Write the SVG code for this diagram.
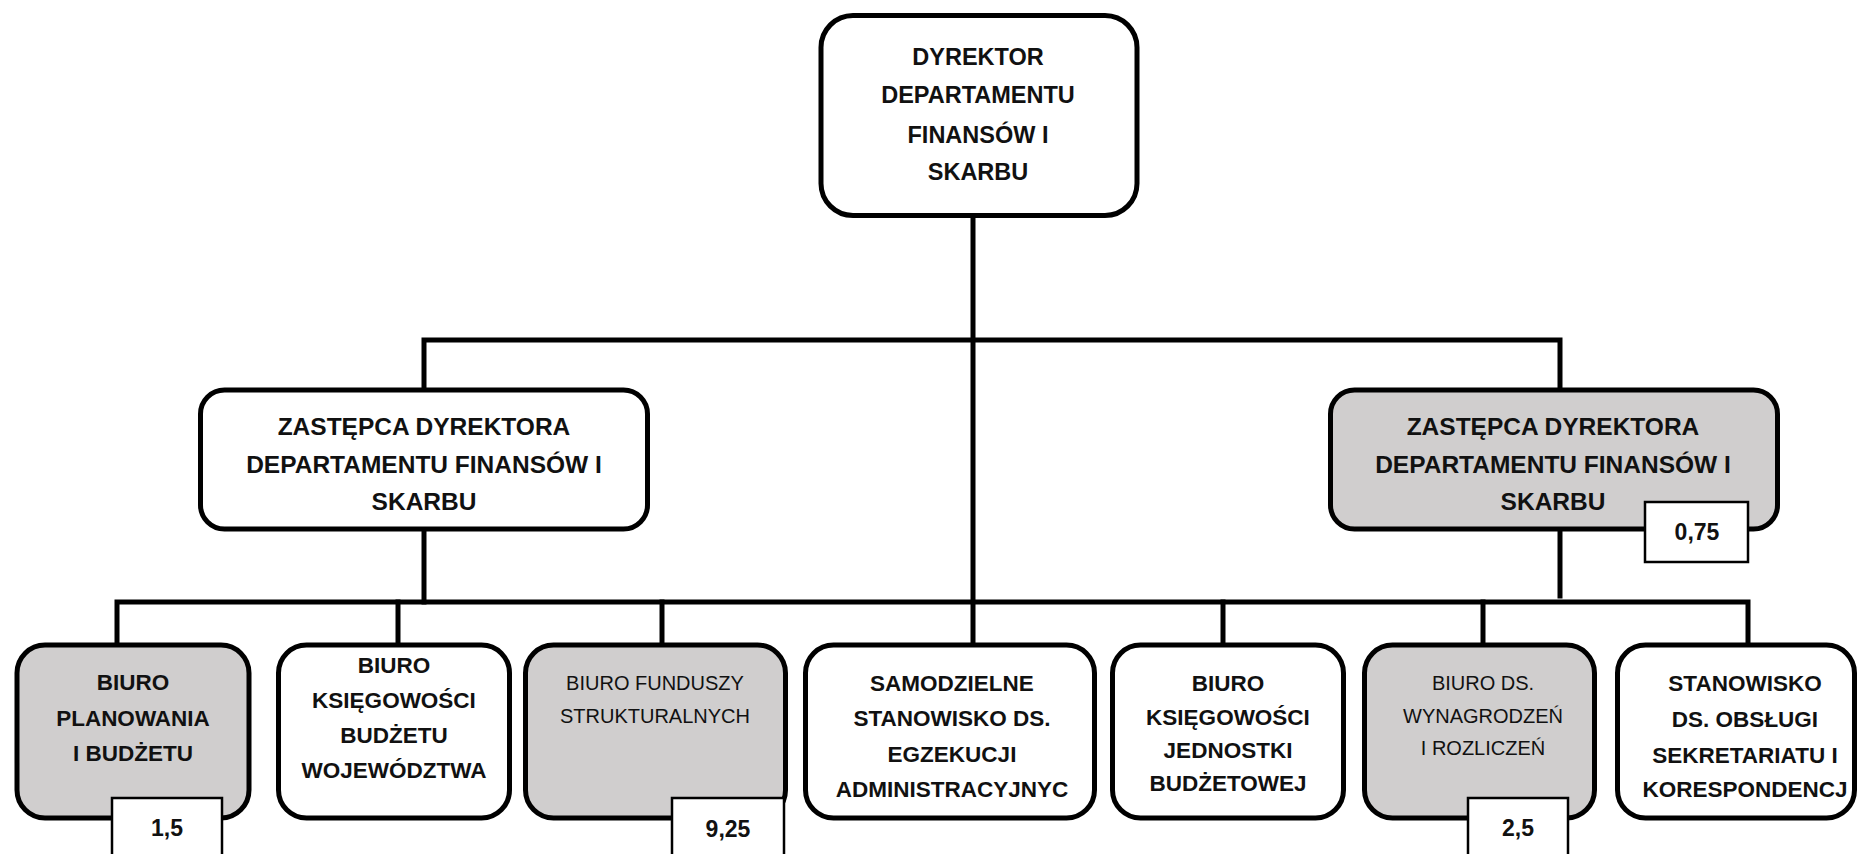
<svg xmlns="http://www.w3.org/2000/svg" width="1860" height="854" viewBox="0 0 1860 854">
<style>
.box{fill:#fff;stroke:#000;stroke-width:5}
.gray{fill:#d0cece}
.badge{fill:#fff;stroke:#000;stroke-width:2.5}
.ln{stroke:#000;stroke-width:5;fill:none;stroke-linecap:square}
text{font-family:"Liberation Sans",Arial,sans-serif;fill:#111;text-anchor:middle}
.b{font-weight:bold}
.t1{font-size:23.5px}
.t2{font-size:24.5px}
.t3{font-size:22.5px}
.tr{font-size:20px;font-weight:normal}
.tn{font-size:23px;font-weight:bold}
</style>
<rect width="1860" height="854" fill="#fff"/>
<g id="connectors">
<line class="ln" x1="973" y1="218" x2="973" y2="643"/>
<polyline class="ln" points="424,387 424,340 1560,340 1560,387"/>
<line class="ln" x1="424" y1="531" x2="424" y2="602"/>
<line class="ln" x1="1560" y1="531" x2="1560" y2="596"/>
<polyline class="ln" points="117,643 117,602 1748,602 1748,643"/>
<line class="ln" x1="398" y1="602" x2="398" y2="643"/>
<line class="ln" x1="662" y1="602" x2="662" y2="643"/>
<line class="ln" x1="1223" y1="602" x2="1223" y2="643"/>
<line class="ln" x1="1483" y1="602" x2="1483" y2="643"/>
</g>
<g id="dyrektor">
<rect class="box" x="821" y="15.5" width="316" height="200" rx="32"/>
<text class="b t1"><tspan x="978" y="65">DYREKTOR</tspan><tspan x="978" y="103">DEPARTAMENTU</tspan><tspan x="978" y="143">FINANSÓW I</tspan><tspan x="978" y="180">SKARBU</tspan></text>
</g>
<g id="zastepca-lewy">
<rect class="box" x="200.5" y="390" width="447" height="139" rx="24"/>
<text class="b t2"><tspan x="424" y="435">ZASTĘPCA DYREKTORA</tspan><tspan x="424" y="473">DEPARTAMENTU FINANSÓW I</tspan><tspan x="424" y="510">SKARBU</tspan></text>
</g>
<g id="zastepca-prawy">
<rect class="box gray" x="1330.5" y="390" width="447" height="139" rx="24"/>
<text class="b t2"><tspan x="1553" y="435">ZASTĘPCA DYREKTORA</tspan><tspan x="1553" y="473">DEPARTAMENTU FINANSÓW I</tspan><tspan x="1553" y="510">SKARBU</tspan></text>
<rect class="badge" x="1645" y="502" width="103" height="60"/>
<text class="tn" x="1697" y="540">0,75</text>
</g>
<g id="biuro-planowania">
<rect class="box gray" x="17" y="645" width="232" height="173" rx="28"/>
<text class="b t3"><tspan x="133" y="690">BIURO</tspan><tspan x="133" y="726">PLANOWANIA</tspan><tspan x="133" y="761">I BUDŻETU</tspan></text>
<rect class="badge" x="112" y="798" width="110" height="70"/>
<text class="tn" x="167" y="836">1,5</text>
</g>
<g id="biuro-ksiegowosci-budzetu">
<rect class="box" x="278.5" y="645" width="231" height="173" rx="28"/>
<text class="b t3"><tspan x="394" y="673">BIURO</tspan><tspan x="394" y="708">KSIĘGOWOŚCI</tspan><tspan x="394" y="743">BUDŻETU</tspan><tspan x="394" y="778">WOJEWÓDZTWA</tspan></text>
</g>
<g id="biuro-funduszy">
<rect class="box gray" x="525.5" y="645" width="260" height="173" rx="28"/>
<text class="tr"><tspan x="655" y="690">BIURO FUNDUSZY</tspan><tspan x="655" y="723">STRUKTURALNYCH</tspan></text>
<rect class="badge" x="672" y="798" width="112" height="70"/>
<text class="tn" x="728" y="837">9,25</text>
</g>
<g id="samodzielne-stanowisko">
<rect class="box" x="805.5" y="645" width="289" height="173" rx="28"/>
<text class="b t3"><tspan x="952" y="691">SAMODZIELNE</tspan><tspan x="952" y="726">STANOWISKO DS.</tspan><tspan x="952" y="762">EGZEKUCJI</tspan><tspan x="952" y="797">ADMINISTRACYJNYC</tspan></text>
</g>
<g id="biuro-ksiegowosci-jednostki">
<rect class="box" x="1112.5" y="645" width="231" height="173" rx="28"/>
<text class="b t3"><tspan x="1228" y="691">BIURO</tspan><tspan x="1228" y="725">KSIĘGOWOŚCI</tspan><tspan x="1228" y="758">JEDNOSTKI</tspan><tspan x="1228" y="791">BUDŻETOWEJ</tspan></text>
</g>
<g id="biuro-wynagrodzen">
<rect class="box gray" x="1364.5" y="645" width="230" height="173" rx="28"/>
<text class="tr"><tspan x="1483" y="690">BIURO DS.</tspan><tspan x="1483" y="723">WYNAGRODZEŃ</tspan><tspan x="1483" y="755">I ROZLICZEŃ</tspan></text>
<rect class="badge" x="1468" y="798" width="100" height="70"/>
<text class="tn" x="1518" y="836">2,5</text>
</g>
<g id="stanowisko-sekretariatu">
<rect class="box" x="1617.5" y="645" width="237" height="173" rx="28"/>
<text class="b t3"><tspan x="1745" y="691">STANOWISKO</tspan><tspan x="1745" y="727">DS. OBSŁUGI</tspan><tspan x="1745" y="763">SEKRETARIATU I</tspan><tspan x="1745" y="797">KORESPONDENCJ</tspan></text>
</g>
</svg>
